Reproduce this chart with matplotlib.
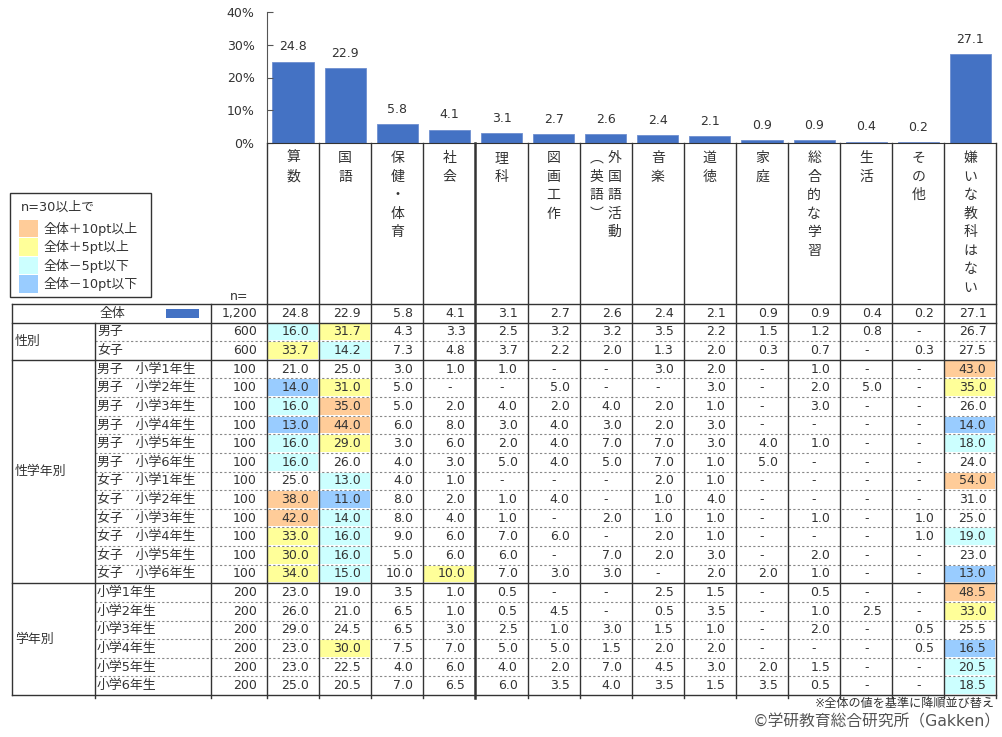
import matplotlib
matplotlib.use("Agg")
import matplotlib.pyplot as plt
from matplotlib.patches import Rectangle

plt.rcParams['font.family'] = ['DejaVu Sans', 'Noto Sans CJK JP']

# data
subjects = ['算数', '国語', '保健・体育', '社会', '理科', '図画工作', '外国語活動（英語）',
            '音楽', '道徳', '家庭', '総合的な学習', '生活', 'その他', '嫌いな教科はない']
# header text columns (vertical writing, right column first)
header_cols = [['算数'], ['国語'], ['保健・体育'], ['社会'], ['理科'], ['図画工作'],
               ['外国語活動', '︵英語︶'], ['音楽'], ['道徳'], ['家庭'], ['総合的な学習'],
               ['生活'], ['その他'], ['嫌いな教科はない']]

N = None
total_n = 1200
total = [24.8, 22.9, 5.8, 4.1, 3.1, 2.7, 2.6, 2.4, 2.1, 0.9, 0.9, 0.4, 0.2, 27.1]

gender_labels = ['男子', '女子']
gender_n = [600, 600]
gender_vals = [
    [16.0, 31.7, 4.3, 3.3, 2.5, 3.2, 3.2, 3.5, 2.2, 1.5, 1.2, 0.8, N, 26.7],
    [33.7, 14.2, 7.3, 4.8, 3.7, 2.2, 2.0, 1.3, 2.0, 0.3, 0.7, N, 0.3, 27.5],
]

gg_labels = ['男子　小学1年生', '男子　小学2年生', '男子　小学3年生', '男子　小学4年生',
             '男子　小学5年生', '男子　小学6年生', '女子　小学1年生', '女子　小学2年生',
             '女子　小学3年生', '女子　小学4年生', '女子　小学5年生', '女子　小学6年生']
gg_n = [100] * 12
gg_vals = [
    [21.0, 25.0, 3.0, 1.0, 1.0, N, N, 3.0, 2.0, N, 1.0, N, N, 43.0],
    [14.0, 31.0, 5.0, N, N, 5.0, N, N, 3.0, N, 2.0, 5.0, N, 35.0],
    [16.0, 35.0, 5.0, 2.0, 4.0, 2.0, 4.0, 2.0, 1.0, N, 3.0, N, N, 26.0],
    [13.0, 44.0, 6.0, 8.0, 3.0, 4.0, 3.0, 2.0, 3.0, N, N, N, N, 14.0],
    [16.0, 29.0, 3.0, 6.0, 2.0, 4.0, 7.0, 7.0, 3.0, 4.0, 1.0, N, N, 18.0],
    [16.0, 26.0, 4.0, 3.0, 5.0, 4.0, 5.0, 7.0, 1.0, 5.0, N, N, N, 24.0],
    [25.0, 13.0, 4.0, 1.0, N, N, N, 2.0, 1.0, N, N, N, N, 54.0],
    [38.0, 11.0, 8.0, 2.0, 1.0, 4.0, N, 1.0, 4.0, N, N, N, N, 31.0],
    [42.0, 14.0, 8.0, 4.0, 1.0, N, 2.0, 1.0, 1.0, N, 1.0, N, 1.0, 25.0],
    [33.0, 16.0, 9.0, 6.0, 7.0, 6.0, N, 2.0, 1.0, N, N, N, 1.0, 19.0],
    [30.0, 16.0, 5.0, 6.0, 6.0, N, 7.0, 2.0, 3.0, N, 2.0, N, N, 23.0],
    [34.0, 15.0, 10.0, 10.0, 7.0, 3.0, 3.0, N, 2.0, 2.0, 1.0, N, N, 13.0],
]

grade_labels = ['小学1年生', '小学2年生', '小学3年生', '小学4年生', '小学5年生', '小学6年生']
grade_n = [200] * 6
grade_vals = [
    [23.0, 19.0, 3.5, 1.0, 0.5, N, N, 2.5, 1.5, N, 0.5, N, N, 48.5],
    [26.0, 21.0, 6.5, 1.0, 0.5, 4.5, N, 0.5, 3.5, N, 1.0, 2.5, N, 33.0],
    [29.0, 24.5, 6.5, 3.0, 2.5, 1.0, 3.0, 1.5, 1.0, N, 2.0, N, 0.5, 25.5],
    [23.0, 30.0, 7.5, 7.0, 5.0, 5.0, 1.5, 2.0, 2.0, N, N, N, 0.5, 16.5],
    [23.0, 22.5, 4.0, 6.0, 4.0, 2.0, 7.0, 4.5, 3.0, 2.0, 1.5, N, N, 20.5],
    [25.0, 20.5, 7.0, 6.5, 6.0, 3.5, 4.0, 3.5, 1.5, 3.5, 0.5, N, N, 18.5],
]

groups = [('性別', gender_labels, gender_n, gender_vals),
          ('性学年別', gg_labels, gg_n, gg_vals),
          ('学年別', grade_labels, grade_n, grade_vals)]

legend_labels = ['全体＋10pt以上', '全体＋5pt以上', '全体－5pt以下', '全体－10pt以下']
legend_colors = ['#FFCC99', '#FFFF99', '#CCFFFF', '#99CCFF']

BAR = '#4472C4'
TXT = '#333333'
LINE = '#333333'


def cell_color(v, base):
    if v is None:
        return None
    d = round(v - base, 1)
    if d >= 10:
        return legend_colors[0]
    if d >= 5:
        return legend_colors[1]
    if d <= -10:
        return legend_colors[3]
    if d <= -5:
        return legend_colors[2]
    return None


W, H = 1002, 737
fig = plt.figure(figsize=(W / 100, H / 100), dpi=100)

# table / layout axes in pixel units
tab = fig.add_axes([0, 0, 1, 1])
tab.set_xlim(0, W)
tab.set_ylim(H, 0)
tab.axis('off')

x0, x1 = 267, 996.5
ncol = len(subjects)
col_w = (x1 - x0) / ncol
y_axis_top, y_base = 12, 143
head_bot = 304
row_h = (695 - head_bot) / 21
left_x, grp_x, lab_x = 12, 95, 211

# bar chart
ax = fig.add_axes([x0 / W, 1 - y_base / H, (x1 - x0) / W, (y_base - y_axis_top) / H])
xs = [i + 0.5 for i in range(ncol)]
ax.bar(xs, total, width=0.79, color=BAR, edgecolor='#6E8FD0', linewidth=0.6)
for x, v in zip(xs, total):
    ax.annotate(f'{v:.1f}', (x, v), xytext=(0, 6), textcoords='offset points',
                ha='center', va='bottom', fontsize=9, color=TXT)
ax.set_xlim(0, ncol)
ax.set_ylim(0, 40)
ax.set_xticks([])
ax.set_yticks([0, 10, 20, 30, 40])
ax.set_yticklabels([f'{t}%' for t in [0, 10, 20, 30, 40]])
ax.tick_params(axis='y', direction='in', length=4, pad=9, labelsize=9,
               labelcolor=TXT, color='#555555')
for s in ['top', 'right']:
    ax.spines[s].set_visible(False)
ax.spines['left'].set_color('#555555')
ax.spines['bottom'].set_color(LINE)
ax.patch.set_alpha(0)

# header characters
for j, cols in enumerate(header_cols):
    cx = x0 + (j + 0.5) * col_w
    offs = [0] if len(cols) == 1 else [9, -9]
    for text, off in zip(cols, offs):
        for k, ch in enumerate(text):
            tab.text(cx + off, 158 + k * 18.5, ch, ha='center', va='center',
                     fontsize=10, color=TXT, family='Noto Sans CJK JP')

# rows
rows = []
for gname, labels, ns, vals in groups:
    for lab, n, v in zip(labels, ns, vals):
        rows.append((gname, lab, n, v))

fs = 9


def draw_values(vals, yc, base=None):
    for j, v in enumerate(vals):
        cl = x0 + j * col_w
        if base is not None:
            c = cell_color(v, base[j])
            if c:
                tab.add_patch(Rectangle((cl + 1, yc - row_h / 2 + 1), col_w - 2, row_h - 2,
                                        facecolor=c, edgecolor='none', zorder=1))
        if v is None:
            tab.text(cl + col_w / 2, yc, '-', ha='center', va='center', fontsize=fs,
                     color=TXT, zorder=3)
        else:
            tab.text(cl + col_w - 10, yc, f'{v:.1f}', ha='right', va='center',
                     fontsize=fs, color=TXT, zorder=3)


# overall row
yc = head_bot + row_h / 2
tab.text(112, yc, '全体', ha='center', va='center', fontsize=9.3, color=TXT)
tab.add_patch(Rectangle((166, yc - 4.5), 33, 9, facecolor=BAR, edgecolor='none'))
tab.text(x0 - 10, yc, f'{total_n:,}', ha='right', va='center', fontsize=fs, color=TXT)
draw_values(total, yc)

ytop = head_bot + row_h
group_spans = []
prev = None
for i, (gname, lab, n, vals) in enumerate(rows):
    yt = ytop + i * row_h
    yc = yt + row_h / 2
    if gname != prev:
        group_spans.append([gname, yt, yt + row_h])
        if i > 0:
            tab.plot([left_x, x1], [yt, yt], color=LINE, lw=1, zorder=4)
    else:
        group_spans[-1][2] = yt + row_h
        tab.plot([grp_x, x1], [yt, yt], color='#888888', lw=0.8,
                 linestyle=(0, (2, 2)), zorder=4)
    prev = gname
    tab.text(grp_x + 2, yc, lab, ha='left', va='center', fontsize=9.3, color=TXT)
    tab.text(x0 - 10, yc, f'{n:,}', ha='right', va='center', fontsize=fs, color=TXT)
    draw_values(vals, yc, total)

for gname, yt, yb in group_spans:
    tab.text(left_x + 3, (yt + yb) / 2, gname, ha='left', va='center', fontsize=9.3,
             color=TXT)

y_end = ytop + len(rows) * row_h

# grid lines
tab.plot([left_x, x1], [head_bot, head_bot], color=LINE, lw=1, zorder=4)
tab.plot([left_x, x1], [ytop, ytop], color=LINE, lw=1, zorder=4)
tab.plot([left_x, x1], [y_end, y_end], color=LINE, lw=1, zorder=4)
tab.plot([left_x, left_x], [head_bot, y_end], color=LINE, lw=1, zorder=4)
tab.plot([grp_x, grp_x], [ytop, y_end + 3], color=LINE, lw=1, zorder=4)
tab.plot([lab_x, lab_x], [head_bot, y_end + 3], color=LINE, lw=1, zorder=4)
for j in range(ncol + 1):
    xx = x0 + j * col_w
    tab.plot([xx, xx], [y_base, y_end + 3], color=LINE, lw=1.8 if j == 4 else 1,
             zorder=4)

tab.text(248, 296, 'n=', ha='right', va='center', fontsize=fs, color=TXT)

# legend box
tab.add_patch(Rectangle((10, 193), 141, 104, facecolor='white', edgecolor=LINE, lw=1))
tab.text(21, 207, 'n=30以上で', ha='left', va='center', fontsize=9.3, color=TXT)
for k, (lab, c) in enumerate(zip(legend_labels, legend_colors)):
    yt = 220 + k * 18.4
    tab.add_patch(Rectangle((19, yt), 19, 17.4, facecolor=c, edgecolor='none'))
    tab.text(44, yt + 8.7, lab, ha='left', va='center', fontsize=9.3, color=TXT)

# footer
tab.text(995, 704, '※全体の値を基準に降順並び替え', ha='right', va='center',
         fontsize=8.7, color=TXT)
tab.text(1001, 722, '©学研教育総合研究所（Gakken）', ha='right', va='center',
         fontsize=11.3, color='#555555')

fig.savefig('out.png', dpi=100)
